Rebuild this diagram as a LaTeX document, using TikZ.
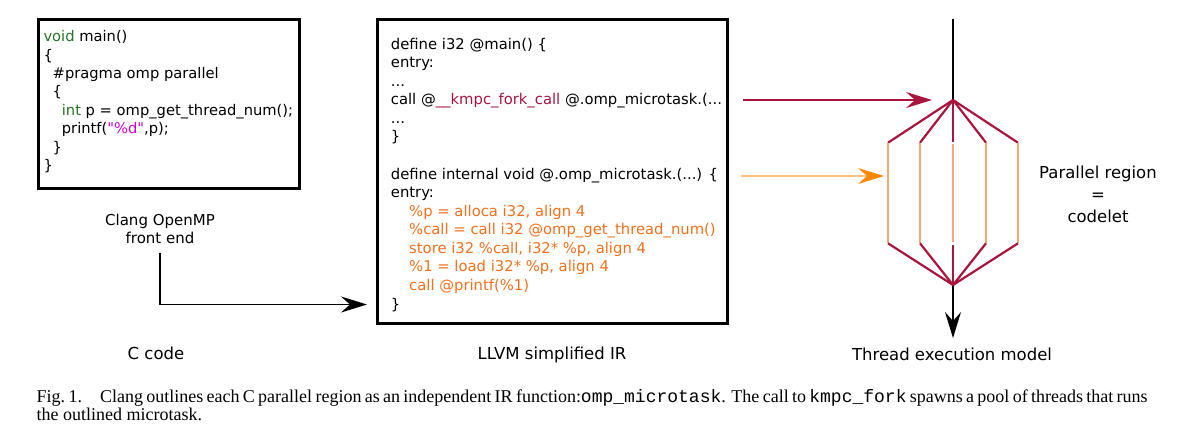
\documentclass[tikz,border=0pt]{standalone}
\usepackage{fontspec}
\setmainfont{Liberation Serif}
\setmonofont{Liberation Mono}
\newfontfamily\dv{DejaVu Sans}
\usetikzlibrary{arrows.meta,calc}
\definecolor{redc}{RGB}{168,22,62}
\definecolor{orangetext}{RGB}{242,112,28}
\definecolor{orangetip}{RGB}{255,136,0}
\definecolor{orangeline}{RGB}{255,192,128}
\definecolor{orangethread}{RGB}{248,166,116}
\definecolor{greenc}{RGB}{38,115,38}
\definecolor{magc}{RGB}{204,0,204}
\tikzset{
  codebox/.style={draw, line width=2.5pt, inner sep=0pt, rectangle},
  codetext/.style={anchor=base west, inner sep=0pt, align=left,
    font={\dv\fontsize{14.7}{18.4}\selectfont}},
  label/.style={align=center, inner sep=0pt, font={\dv\fontsize{16.5}{22}\selectfont}},
  arr/.style={-{Stealth[length=26pt,width=16pt,inset=9pt]}, line width=1.5pt},
  thread/.style={line width=2.2pt, line cap=butt},
}
\begin{document}
\begin{tikzpicture}[x=1pt,y=-1pt]
\useasboundingbox (0,0) rectangle (1182,432);

% C code box
\node[codebox, minimum width=261pt, minimum height=169pt, anchor=north west] (cbox) at (37,18) {};
\node[codetext] (ctext) at (43.3,170.5) {\textcolor{greenc}{void} main()\\
\{\\
\hspace*{9.2pt}\#pragma omp parallel\\
\hspace*{9.2pt}\{\\
\hspace*{18.4pt}\textcolor{greenc}{int} p = omp\_get\_thread\_num();\\
\hspace*{18.4pt}printf(\textcolor{magc}{"\%d"},p);\\
\hspace*{9.2pt}\}\\
\}};

% IR box
\node[codebox, minimum width=350pt, minimum height=304pt, anchor=north west] (irbox) at (376,18) {};
\node[codetext, font={\dv\fontsize{14.8}{18.57}\selectfont}] (irtext) at (390.7,309) {define i32 @main() \{\\
entry:\\
...\\
call @\textcolor{redc}{\_\_kmpc\_fork\_call} @.omp\_microtask.(...\\
...\\
\}\\
\mbox{}\\
define internal void @.omp\_microtask.(...) \{\\
entry:\\
\hspace*{18.3pt}\textcolor{orangetext}{\%p = alloca i32, align 4}\\
\hspace*{18.3pt}\textcolor{orangetext}{\%call = call i32 @omp\_get\_thread\_num()}\\
\hspace*{18.3pt}\textcolor{orangetext}{store i32 \%call, i32* \%p, align 4}\\
\hspace*{18.3pt}\textcolor{orangetext}{\%1 = load i32* \%p, align 4}\\
\hspace*{18.3pt}\textcolor{orangetext}{call @printf(\%1)}\\
\}};

% labels
\node[label, anchor=base, font={\dv\fontsize{15}{18}\selectfont}] (clang) at (160,243) {Clang OpenMP\\front end};
\node[label, anchor=base] (ccode) at (156,359) {C code};
\node[label, anchor=base] (llvm) at (552,359) {LLVM simplified IR};
\node[label, anchor=base] (tem) at (952,360) {Thread execution model};
\node[label, anchor=base] (par) at (1098,222) {Parallel region\\=\\codelet};

% front end arrow
\coordinate (fe) at ($(clang.south)+(0,10)$);
\coordinate (irin) at ($(irbox.south west)+(-9,-20)$);
\draw[arr] (fe) |- (irin);

% thread model
\coordinate (top) at (953,19);
\coordinate (F) at (953,100);
\coordinate (J) at (953,285);
\coordinate (bot) at (953,338);
\draw[line width=1.5pt] (top) -- (F);
\draw[arr] (J) -- (bot);
\foreach \x/\n in {888/a,920/b,986/d,1018/e}{
  \coordinate (u\n) at (\x,142.7);
  \coordinate (l\n) at (\x,243.3);
  \draw[thread, redc] (F) -- (u\n);
  \draw[thread, orangethread] (u\n) -- (l\n);
  \draw[thread, redc] (l\n) -- (J);
}
\coordinate (uc1) at (953,141.7);
\coordinate (uc2) at (953,144.3);
\coordinate (lc1) at (953,242.3);
\coordinate (lc2) at (953,245);
\draw[thread, redc] (F) -- (uc1);
\draw[thread, orangethread] (uc2) -- (lc1);
\draw[thread, redc] (lc2) -- (J);

% arrows from IR to threads
\coordinate (rs) at ($(irbox.east |- F)+(14,0)$);
\draw[arr, redc] (rs) -- ($(F)+(-21,0)$);
\coordinate (os) at (741,176);
\coordinate (oe) at (884,176);
\draw[-{Stealth[length=26pt,width=16pt,inset=9pt,color=orangetip]}, line width=1.5pt, orangeline] (os) -- (oe);

% caption
\node[anchor=base west, text width=1111pt, align=justify, inner sep=0pt,
  font={\fontsize{18}{18.7}\selectfont}] (cap) at (36.5,402) {Fig.~1.\hspace*{18pt}Clang outlines each C parallel region as an independent IR function:\texttt{omp\_microtask}. The call to \texttt{kmpc\_fork} spawns a pool of threads that runs\linebreak the outlined microtask.};
\end{tikzpicture}
\end{document}
